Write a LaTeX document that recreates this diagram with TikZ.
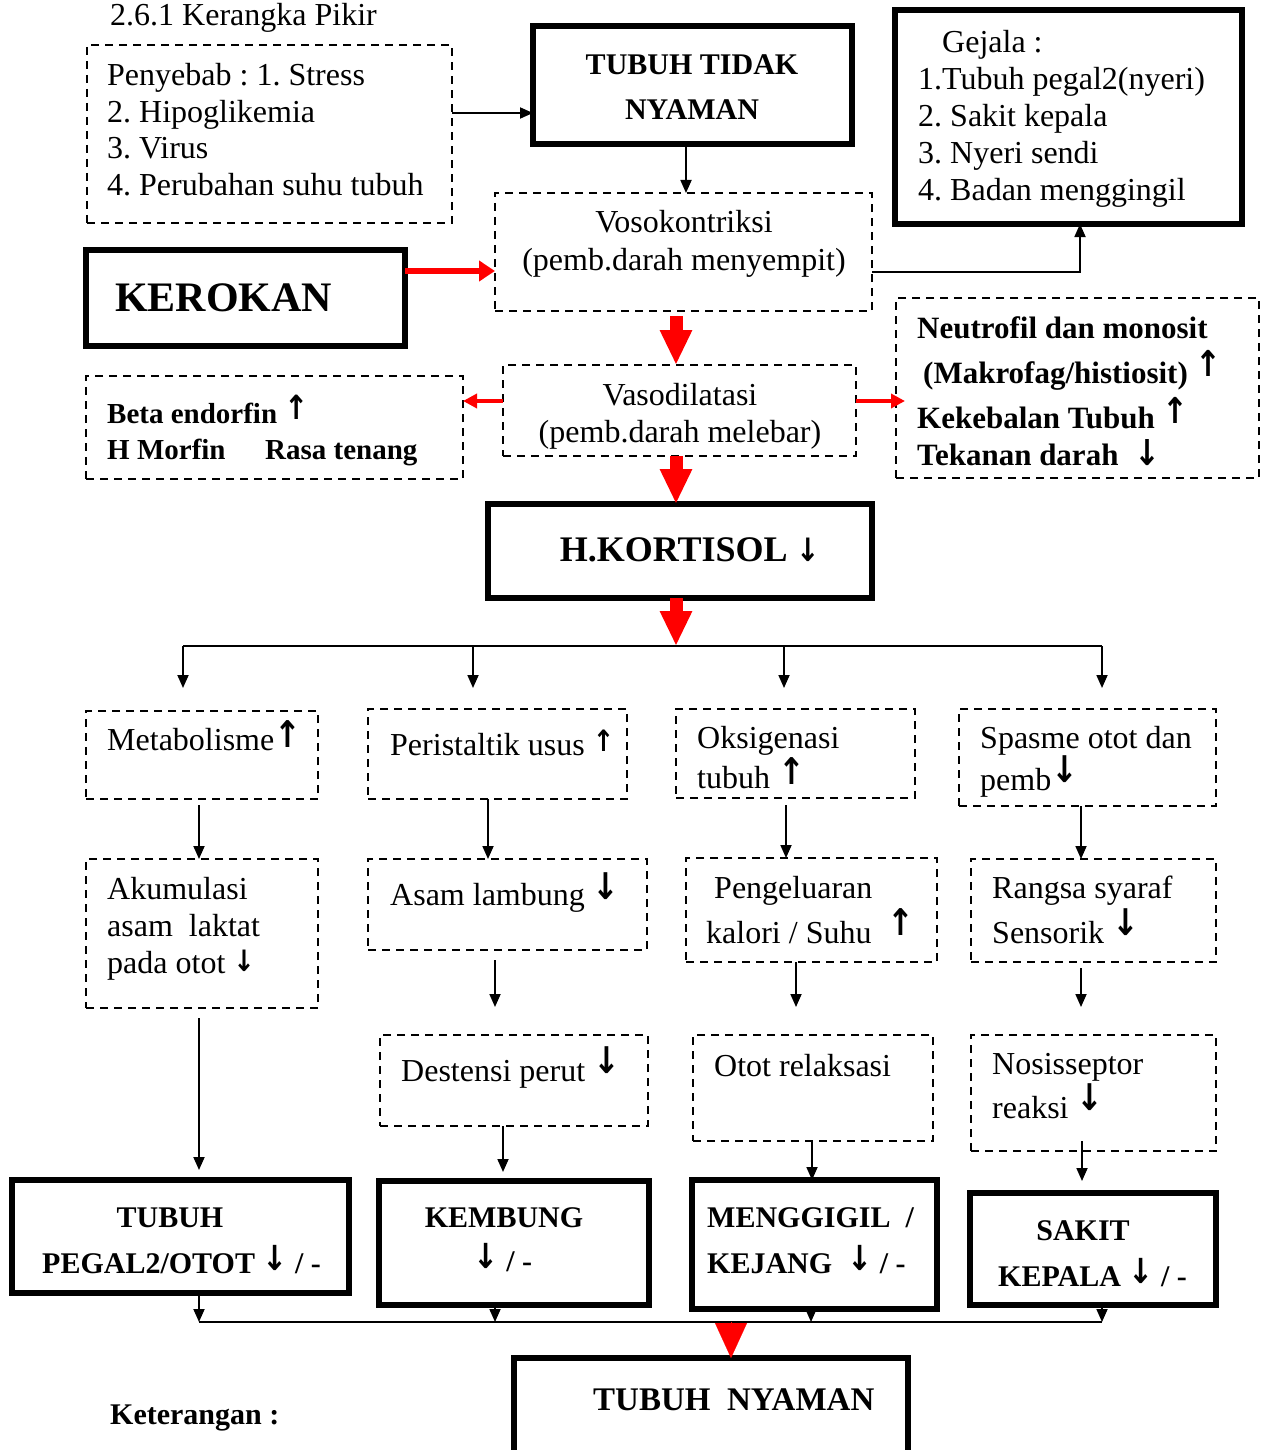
\documentclass[tikz,border=0pt]{standalone}
\usepackage{fontspec}
\setmainfont{Liberation Serif}
\newfontfamily\arrf{DejaVu Sans}
\usetikzlibrary{arrows.meta}
\frenchspacing
\newcommand\UA{{\arrf\bfseries\scalebox{1}[1.15]{↑}}}
\newcommand\DA{{\arrf\bfseries\scalebox{1}[1.15]{↓}}}
\tikzset{
 dbox/.style={draw, line width=2pt, dash pattern=on 8pt off 6pt, inner sep=0pt, outer sep=0pt, anchor=north west},
 tbox/.style={draw, line width=5.5pt, inner sep=0pt, outer sep=0pt, anchor=north west},
 txt/.style={inner sep=0pt, font=\fontsize{32}{38}\selectfont\frenchspacing, anchor=mid west, yshift=-8pt},
 ctxt/.style={txt, anchor=mid},
 btxt/.style={txt, font=\fontsize{31}{38}\selectfont\bfseries\frenchspacing},
 stxt/.style={txt, font=\fontsize{29}{36}\selectfont\bfseries\frenchspacing},
 alg/.style={inner sep=0pt, font=\fontsize{30}{36}\selectfont\bfseries},
 arr/.style={-{Triangle[length=13pt,width=11pt]}, line width=1.8pt},
 redbig/.style={red, line width=13pt, -{Triangle[length=35pt,width=30pt]}},
 redmid/.style={red, line width=6pt, -{Triangle[length=16pt,width=20pt]}},
 redsmall/.style={red, line width=4pt, -{Triangle[length=14pt,width=14pt]}},
 redtri/.style={red, line width=0.1pt, -{Triangle[length=35pt,width=32pt]}},
}
\begin{document}
\begin{tikzpicture}[x=1pt,y=-1pt]
\useasboundingbox[fill=white] (0,0) rectangle (1263,1450);

% ---- boxes ----
\node[dbox, minimum width=365pt, minimum height=178pt] (peny) at (87,45) {};
\node[tbox, minimum width=319pt, minimum height=118pt] (ttn) at (533,26) {};
\node[tbox, minimum width=347pt, minimum height=214pt] (gej) at (895,10) {};
\node[tbox, minimum width=319pt, minimum height=96pt] (kero) at (86,250) {};
\node[dbox, minimum width=377pt, minimum height=118pt] (voso) at (495,193) {};
\node[dbox, minimum width=353pt, minimum height=91pt] (vaso) at (503,365) {};
\node[dbox, minimum width=377pt, minimum height=103pt] (beta) at (86,376) {};
\node[dbox, minimum width=363pt, minimum height=180pt] (neut) at (896,298) {};
\node[tbox, minimum width=384pt, minimum height=94pt] (kort) at (488,504) {};
\node[dbox, minimum width=232pt, minimum height=88pt] (meta) at (86,711) {};
\node[dbox, minimum width=259pt, minimum height=90pt] (peri) at (368,709) {};
\node[dbox, minimum width=239pt, minimum height=89pt] (oksi) at (676,709) {};
\node[dbox, minimum width=257pt, minimum height=97pt] (spas) at (959,709) {};
\node[dbox, minimum width=232pt, minimum height=149pt] (akum) at (86,859) {};
\node[dbox, minimum width=279pt, minimum height=91pt] (asam) at (368,859) {};
\node[dbox, minimum width=251pt, minimum height=104pt] (peng) at (686,858) {};
\node[dbox, minimum width=245pt, minimum height=103pt] (rang) at (971,859) {};
\node[dbox, minimum width=268pt, minimum height=91pt] (dest) at (380,1035) {};
\node[dbox, minimum width=240pt, minimum height=106pt] (otot) at (693,1035) {};
\node[dbox, minimum width=245pt, minimum height=116pt] (noss) at (971,1035) {};
\node[tbox, minimum width=337pt, minimum height=113pt] (peg) at (12,1180) {};
\node[tbox, minimum width=270pt, minimum height=124pt] (kemb) at (379,1181) {};
\node[tbox, minimum width=245pt, minimum height=129pt] (meng) at (692,1180) {};
\node[tbox, minimum width=246pt, minimum height=112pt] (sakit) at (970,1193) {};
\node[tbox, minimum width=394pt, minimum height=95pt] (nyam) at (514,1358) {};

% ---- texts ----
\node[txt] (title) at (110,15) {2.6.1 Kerangka Pikir};
\node[txt] (p1) at (107,75) {Penyebab : 1. Stress};
\node[txt] (p2) at (107,112) {2. Hipoglikemia};
\node[txt] (p3) at (107,148) {3. Virus};
\node[txt] (p4) at (107,185) {4. Perubahan suhu tubuh};
\node[alg] (t1) at (692,65) {TUBUH TIDAK};
\node[alg] (t2) at (692,110) {NYAMAN};
\node[txt] (g0) at (942,42) {Gejala :};
\node[txt] (g1) at (918,79) {1.Tubuh pegal2(nyeri)};
\node[txt] (g2) at (918,116) {2. Sakit kepala};
\node[txt] (g3) at (918,153) {3. Nyeri sendi};
\node[txt] (g4) at (918,190) {4. Badan menggingil};
\node[alg, font=\fontsize{42}{48}\selectfont\bfseries, anchor=west] (k1) at (115,298) {KEROKAN};
\node[ctxt] (v1) at (684,222) {Vosokontriksi};
\node[ctxt] (v2) at (684,260) {(pemb.darah menyempit)};
\node[ctxt] (d1) at (680,395) {Vasodilatasi};
\node[ctxt] (d2) at (680,432) {(pemb.darah melebar)};
\node[stxt] (b1) at (107,413) {Beta endorfin \raisebox{4pt}{\UA}};
\node[stxt] (b2) at (107,449) {H Morfin};
\node[stxt] (b3) at (265,449) {Rasa tenang};
\node[btxt] (n1) at (917,328) {Neutrofil dan monosit};
\node[btxt] (n2) at (923,373) {(Makrofag/histiosit) \raisebox{7pt}{\UA}};
\node[btxt] (n3) at (917,418) {Kekebalan Tubuh \raisebox{5pt}{\UA}};
\node[btxt] (n4) at (917,455) {Tekanan darah\ \ \DA};
\node[alg, font=\fontsize{36}{42}\selectfont\bfseries] (h1) at (690,550) {H.KORTISOL {\fontsize{28}{30}\selectfont\DA}};
\node[txt] (m1) at (107,740) {Metabolisme\raisebox{3pt}{\UA}};
\node[txt] (r1) at (390,745) {Peristaltik usus \raisebox{4pt}{\scalebox{0.8}{\UA}}};
\node[txt] (o1) at (697,738) {Oksigenasi};
\node[txt] (o2) at (697,778) {tubuh \raisebox{4pt}{\UA}};
\node[txt] (s1) at (980,738) {Spasme otot dan};
\node[txt] (s2) at (980,780) {pemb\raisebox{8pt}{\DA}};
\node[txt] (a1) at (107,889) {Akumulasi};
\node[txt] (a2) at (107,926) {asam\ \ laktat};
\node[txt] (a3) at (107,963) {pada otot \raisebox{2pt}{\scalebox{0.8}{\DA}}};
\node[txt] (l1) at (390,895) {Asam lambung \raisebox{6pt}{\DA}};
\node[txt] (e1) at (714,888) {Pengeluaran};
\node[txt] (e2) at (706,933) {kalori / Suhu\ \ \raisebox{8pt}{\UA}};
\node[txt] (y1) at (992,888) {Rangsa syaraf};
\node[txt] (y2) at (992,933) {Sensorik \raisebox{8pt}{\DA}};
\node[txt] (x1) at (401,1071) {Destensi perut \raisebox{8pt}{\DA}};
\node[txt] (x2) at (714,1066) {Otot relaksasi};
\node[txt] (x3) at (992,1064) {Nosisseptor};
\node[txt] (x4) at (992,1108) {reaksi \raisebox{8pt}{\DA}};
\node[alg] (f1) at (170,1218) {TUBUH};
\node[alg, anchor=west] (f2) at (42,1260) {PEGAL2/OTOT \raisebox{3pt}{\DA} / -};
\node[alg] (f3) at (504,1218) {KEMBUNG};
\node[alg] (f4) at (503,1258) {\raisebox{3pt}{\DA} / -};
\node[alg, anchor=west] (f5) at (707,1218) {MENGGIGIL\ \ /};
\node[alg, anchor=west] (f6) at (707,1260) {KEJANG\ \ \raisebox{3pt}{\DA} / -};
\node[alg] (f7) at (1083,1231) {SAKIT};
\node[alg, anchor=west] (f8) at (998,1273) {KEPALA \raisebox{3pt}{\DA} / -};
\node[alg, font=\fontsize{33}{38}\selectfont\bfseries, anchor=west] (f9) at (593,1400) {TUBUH\ \ NYAMAN};
\node[btxt, font=\fontsize{30}{36}\selectfont\bfseries] (ket) at (110,1414) {Keterangan :};

% ---- connectors ----
\draw[arr] (peny.east |- 0,113) -- (ttn.west |- 0,113);
\draw[arr] (ttn.south -| 686,0) -- (voso.north -| 686,0);
\draw[redmid] (kero.east |- 0,271) -- (voso.west |- 0,271);
\draw[arr] (voso.east |- 0,272) -| (gej.south -| 1080,0);
\draw[redbig, shorten <=5pt] (voso.south -| 676,0) -- (vaso.north -| 676,0);
\draw[redsmall] (vaso.west |- 0,401) -- (beta.east |- 0,401);
\draw[redsmall, shorten >=-9pt] (vaso.east |- 0,401) -- (neut.west |- 0,401);
\draw[redbig] (vaso.south -| 676,0) -- (kort.north -| 676,0);
\coordinate (bus) at (676,646);
\coordinate (busl) at (183,646);
\coordinate (busr) at (1102,646);
\draw[redbig] (kort.south -| 676,0) -- (bus);
\draw[line width=1.8pt] (busl) -- (busr);
\draw[arr, shorten >=23pt] (busl) -- (meta.north -| busl);
\draw[arr, shorten >=21pt] (bus -| 473,0) -- (peri.north -| 473,0);
\draw[arr, shorten >=21pt] (bus -| 784,0) -- (oksi.north -| 784,0);
\draw[arr, shorten >=21pt] (busr) -- (spas.north -| busr);

\draw[arr, shorten <=6pt] (meta.south -| 199,0) -- (akum.north -| 199,0);
\draw[arr] (peri.south -| 488,0) -- (asam.north -| 488,0);
\draw[arr, shorten <=7pt] (oksi.south -| 786,0) -- (peng.north -| 786,0);
\draw[arr] (spas.south -| 1081,0) -- (rang.north -| 1081,0);

\draw[arr, shorten <=10pt, shorten >=10pt] (akum.south -| 199,0) -- (peg.north -| 199,0);
\draw[arr, shorten <=10pt, shorten >=28pt] (asam.south -| 495,0) -- (dest.north -| 495,0);
\draw[arr, shorten >=28pt] (peng.south -| 796,0) -- (otot.north -| 796,0);
\draw[arr, shorten <=6pt, shorten >=28pt] (rang.south -| 1081,0) -- (noss.north -| 1081,0);

\draw[arr, shorten >=9pt] (dest.south -| 503,0) -- (kemb.north -| 503,0);
\draw[arr] (otot.south -| 812,0) -- (meng.north -| 812,0);
\draw[arr, shorten <=-10pt, shorten >=12pt] (noss.south -| 1082,0) -- (sakit.north -| 1082,0);

\coordinate (ll) at (199,1322);
\coordinate (lr) at (1102,1322);
\coordinate (lc) at (731,1322);
\draw[line width=1.8pt] (ll) -- (lr);
\draw[arr] (peg.south -| ll) -- (ll);
\draw[arr] (kemb.south -| 495,0) -- (ll -| 495,0);
\draw[arr] (meng.south -| 811,0) -- (ll -| 811,0);
\draw[arr] (sakit.south -| lr) -- (lr);
\draw[redtri] (lc) -- (nyam.north -| lc);
\end{tikzpicture}
\end{document}
